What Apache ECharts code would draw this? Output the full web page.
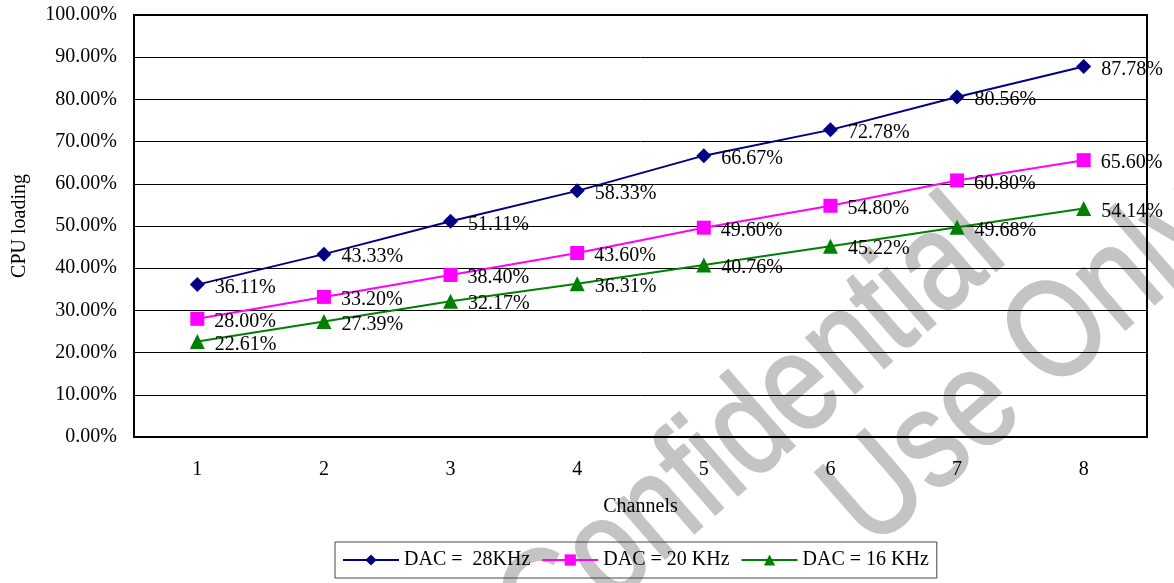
<!DOCTYPE html>
<html>
<head>
<meta charset="utf-8">
<script src="https://cdn.jsdelivr.net/npm/echarts@6/dist/echarts.min.js"></script>
<style>
  html, body { margin: 0; padding: 0; background: #fff; }
  #chart { width: 1174px; height: 583px; }
</style>
</head>
<body>
<div id="chart"></div>
<script>
const channels = ['1', '2', '3', '4', '5', '6', '7', '8']
const seriesNames = ['DAC =  28KHz', 'DAC = 20 KHz', 'DAC = 16 KHz']
const dac28 = [36.11, 43.33, 51.11, 58.33, 66.67, 72.78, 80.56, 87.78]
const dac20 = [28.0, 33.2, 38.4, 43.6, 49.6, 54.8, 60.8, 65.6]
const dac16 = [22.61, 27.39, 32.17, 36.31, 40.76, 45.22, 49.68, 54.14]

const serif = 'Liberation Serif'
const chart = echarts.init(document.getElementById('chart'))

function lineSeries(name, data, color, symbol, size) {
  return {
    name,
    type: 'line',
    data,
    symbol,
    symbolSize: size,
    color,
    lineStyle: { color, width: 2 },
    itemStyle: { color },
    label: {
      show: true,
      position: 'right',
      distance: 10,
      offset: [0, 3],
      color: '#000',
      fontFamily: serif,
      fontSize: 20,
      formatter: (p) => p.value.toFixed(2) + '%',
    },
    animation: false,
    z: 5,
  }
}

// watermark text, behind the plot
function watermark(text, x, y) {
  return {
    type: 'text',
    x, y,
    rotation: 41 * Math.PI / 180,
    scaleY: 1.2,
    z: -10,
    silent: true,
    style: {
      text,
      fill: '#c4c4c4',
      stroke: '#c4c4c4',
      lineWidth: 2,
      font: '116px "Liberation Sans"',
      textAlign: 'center',
      textVerticalAlign: 'middle',
    },
  }
}

chart.setOption({
  backgroundColor: '#fff',
  grid: {
    left: 134, right: 27, top: 15, bottom: 146,
    show: true, borderColor: '#000', borderWidth: 2,
  },
  xAxis: {
    type: 'category',
    data: channels,
    boundaryGap: true,
    name: 'Channels',
    nameLocation: 'middle',
    nameGap: 60,
    nameTextStyle: { fontFamily: serif, fontSize: 20, color: '#000' },
    axisLine: { lineStyle: { color: '#000', width: 2 } },
    axisTick: { inside: true, length: 7, lineStyle: { color: '#000' } },
    axisLabel: { fontFamily: serif, fontSize: 20, color: '#000', margin: 23 },
  },
  yAxis: {
    type: 'value',
    min: 0,
    max: 100,
    interval: 10,
    name: 'CPU loading',
    nameLocation: 'middle',
    nameGap: 104,
    nameTextStyle: { fontFamily: serif, fontSize: 20, color: '#000' },
    axisLine: { show: true, lineStyle: { color: '#000', width: 2 } },
    axisTick: { show: true, inside: true, length: 5, lineStyle: { color: '#000' } },
    axisLabel: {
      fontFamily: serif, fontSize: 20, color: '#000', margin: 17,
      formatter: (v) => v.toFixed(2) + '%',
    },
    splitLine: { lineStyle: { color: '#000', width: 1 } },
  },
  legend: {
    left: 335,
    top: 542,
    orient: 'horizontal',
    data: seriesNames,
    itemWidth: 56,
    itemHeight: 14,
    itemGap: 11,
    padding: [8, 8, 8, 7],
    borderColor: '#444',
    borderWidth: 1,
    textStyle: { fontFamily: serif, fontSize: 20, color: '#000' },
  },
  graphic: [
    watermark('Confidential', 753, 431),
    watermark('Use Only', 1026, 365),
  ],
  series: [
    lineSeries(seriesNames[0], dac28, '#000080', 'diamond', 15),
    lineSeries(seriesNames[1], dac20, '#ff00ff', 'rect', 14),
    lineSeries(seriesNames[2], dac16, '#008000', 'triangle', 15),
  ],
})
</script>
</body>
</html>
